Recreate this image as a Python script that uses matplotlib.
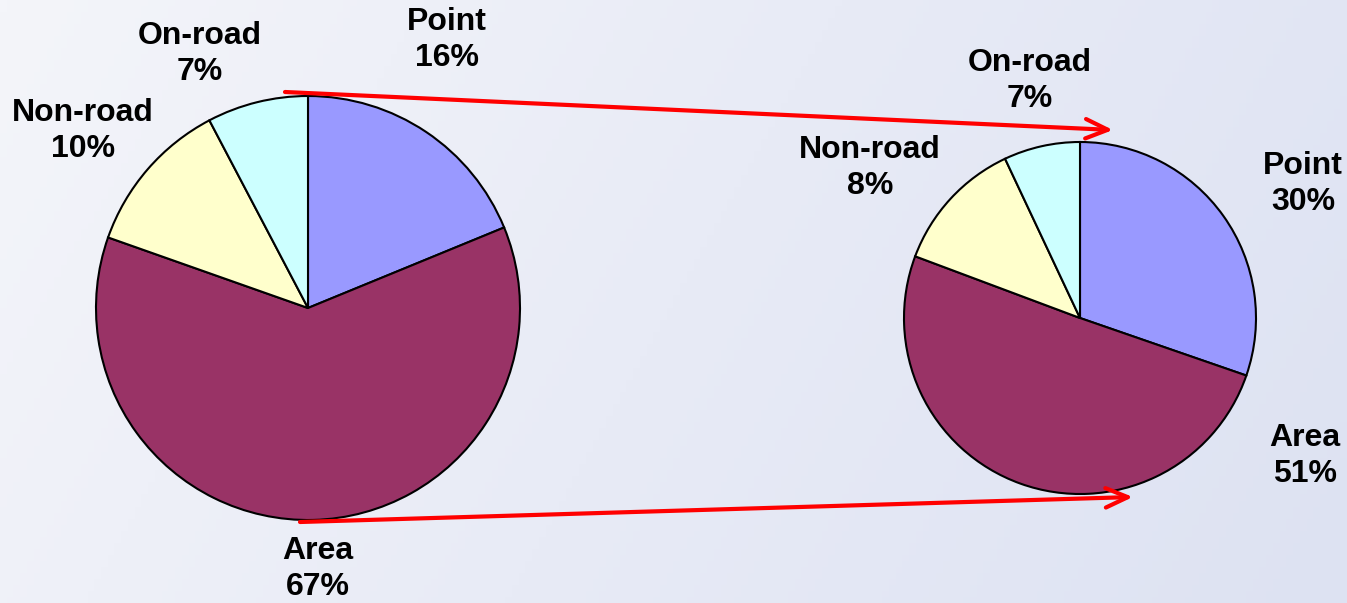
import numpy as np
import matplotlib.pyplot as plt
from matplotlib.colors import LinearSegmentedColormap

# --------------------------------------------------
# Data (wedge sizes as drawn, labels as printed)
# --------------------------------------------------
sources = ["Point", "Area", "Non-road", "On-road"]
colors = ["#9999FF", "#993366", "#FFFFCC", "#CCFFFF"]

left_sizes = [18.8, 61.6, 11.9, 7.7]
left_pcts = ["16%", "67%", "10%", "7%"]

right_sizes = [30.3, 50.4, 12.3, 7.0]
right_pcts = ["30%", "51%", "8%", "7%"]

W, H = 1347, 603

fig = plt.figure(figsize=(W / 100, H / 100), dpi=100)
ax = fig.add_axes([0, 0, 1, 1])

# background gradient
bg = LinearSegmentedColormap.from_list("bg", ["#f4f5fa", "#e8ebf6", "#dde2f2"])
gx = np.linspace(0, 1, 200)
gy = np.linspace(0, 1, 100)
grad = 0.8 * gx[None, :] + 0.2 * (1 - gy[:, None])
ax.imshow(grad, cmap=bg, extent=[0, W, 0, H], aspect="auto", zorder=0, origin="lower")

wedge_style = dict(edgecolor="black", linewidth=1.5)

ax.pie(left_sizes, colors=colors, startangle=90, counterclock=False,
       center=(308, 295), radius=212, wedgeprops=wedge_style, frame=True)
ax.pie(right_sizes, colors=colors, startangle=90, counterclock=False,
       center=(1080, 285), radius=176, wedgeprops=wedge_style, frame=True)
ax.set_xlim(0, W)
ax.set_ylim(0, H)
ax.set_aspect("equal")
ax.axis("off")

# --------------------------------------------------
# Labels
# --------------------------------------------------
label_font = dict(fontsize=23, fontweight="bold", family="Liberation Sans",
                  ha="center", va="center", linespacing=1.3, zorder=5)

left_pos = {"Point": (447, 563), "Area": (318, 34),
            "Non-road": (83, 472), "On-road": (200, 549)}
right_pos = {"Point": (1303, 419), "Area": (1305, 147),
             "Non-road": (870, 435), "On-road": (1030, 522)}

for name, pct in zip(sources, left_pcts):
    ax.text(*left_pos[name], f"{name}\n{pct}", **label_font)
for name, pct in zip(sources, right_pcts):
    ax.text(*right_pos[name], f"{name}\n{pct}", **label_font)

# --------------------------------------------------
# Red arrows
# --------------------------------------------------
arrow_style = dict(arrowstyle="->,head_length=1.6,head_width=0.7",
                   color="red", lw=3, shrinkA=0, shrinkB=0)
ax.annotate("", xy=(1113, 473), xytext=(285, 511), arrowprops=arrow_style, zorder=6)
ax.annotate("", xy=(1133, 106), xytext=(300, 81), arrowprops=arrow_style, zorder=6)

fig.savefig("out.png", dpi=100)
